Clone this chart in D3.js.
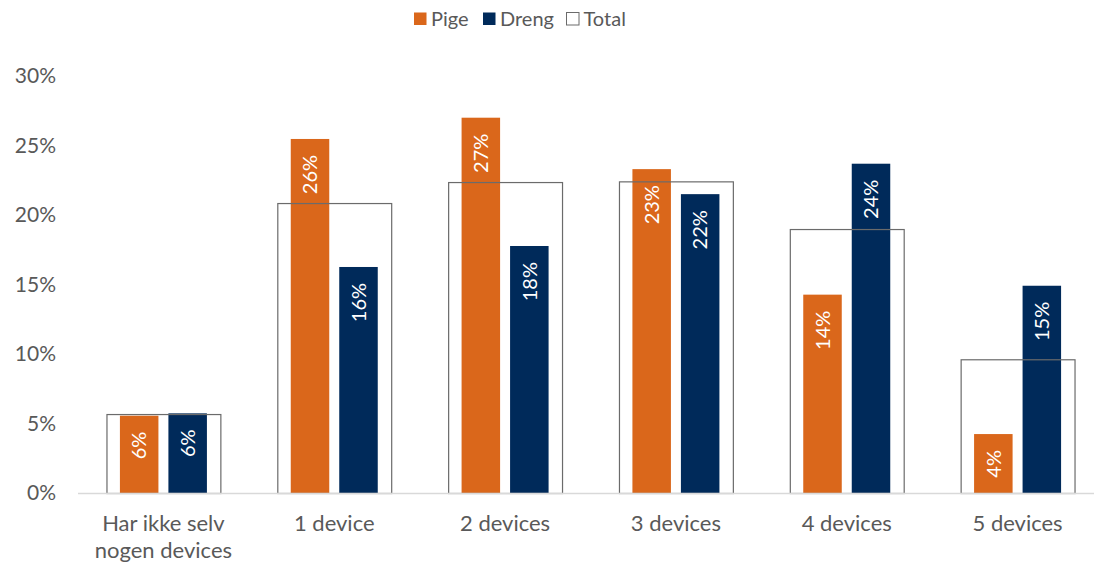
<!DOCTYPE html>
<html><head><meta charset="utf-8">
<script src="https://cdn.jsdelivr.net/npm/d3@7"></script>
<style>body{margin:0;background:#fff;}svg{display:block;font-family:Lato,"Open Sans",sans-serif;}</style>
</head><body>
<svg id="c" width="1094" height="566"></svg>
<script>
const categories = [["Har ikke selv","nogen devices"],["1 device"],["2 devices"],["3 devices"],["4 devices"],["5 devices"]];
const seriesNames = ["Pige","Dreng","Total"];
const pige  = [0.0556, 0.2547, 0.2700, 0.2330, 0.1427, 0.0424];
const dreng = [0.0573, 0.1626, 0.1777, 0.2150, 0.2369, 0.1491];
const total = [0.0568, 0.2086, 0.2237, 0.2242, 0.1899, 0.0962];
const pigeLabels  = ["6%","26%","27%","23%","14%","4%"];
const drengLabels = ["6%","16%","18%","22%","24%","15%"];
const yTicks = [0,0.05,0.10,0.15,0.20,0.25,0.30];

const colors = {Pige:"#DA671B", Dreng:"#002A5A"};
const textCol = "#595959";
const svg = d3.select("#c");
const keys = categories.map((c,i)=>i);
const x = d3.scaleBand().domain(keys).range([78,1103]).padding(0);
const y = d3.scaleLinear().domain([0,0.30]).range([493,76]);
const sub = d3.scaleBand().domain(["Pige","Dreng"]).range([-43.5,43.5]).paddingInner(0.206);
const cx = i => x(i) + x.bandwidth()/2;

// y axis labels
const yAxis = d3.axisLeft(y).tickValues(yTicks).tickFormat(d3.format(".0%")).tickSize(0).tickPadding(0);
const ga = svg.append("g").attr("transform","translate(56,0)").call(yAxis);
ga.select(".domain").remove();
ga.selectAll("text").attr("fill",textCol).style("font-size","21px").style("font-family","Lato");

// bars
const data = [
  {name:"Pige", vals:pige, labels:pigeLabels},
  {name:"Dreng", vals:dreng, labels:drengLabels}
];
data.forEach(s=>{
  const g = svg.append("g");
  g.selectAll("rect").data(s.vals).join("rect")
    .attr("x",(d,i)=>cx(i)+sub(s.name))
    .attr("width",sub.bandwidth())
    .attr("y",d=>y(d))
    .attr("height",d=>y(0)-y(d))
    .attr("fill",colors[s.name]);
});
// total outlines
const tw = x.bandwidth()*2/3;
svg.append("g").selectAll("rect").data(total).join("rect")
  .attr("x",(d,i)=>cx(i)-tw/2+0.5)
  .attr("width",tw)
  .attr("y",d=>y(d)+0.5)
  .attr("height",d=>y(0)-y(d))
  .attr("fill","none").attr("stroke","#6b6b6b").attr("stroke-width",1.2);

// labels
data.forEach(s=>{
  svg.append("g").selectAll("text").data(s.vals).join("text")
    .attr("transform",(d,i)=>`translate(${cx(i)+sub(s.name)+sub.bandwidth()/2},${y(d)+16}) rotate(-90)`)
    .attr("text-anchor","end").attr("dy","0.36em")
    .attr("fill","#fff").style("font-size","20px")
    .text((d,i)=>s.labels[i]);
});

// x axis line
svg.append("line").attr("x1",78).attr("x2",1103).attr("y1",493.5).attr("y2",493.5)
  .attr("stroke","#d9d9d9").attr("stroke-width",1.5);

// category labels
const xa = svg.append("g");
categories.forEach((lines,i)=>{
  const t = xa.append("text").attr("x",cx(i)).attr("y",531).attr("text-anchor","middle")
    .attr("fill",textCol).style("font-size","22px");
  lines.forEach((l,j)=>t.append("tspan").attr("x",cx(i)).attr("dy",j===0?0:27).text(l));
});

// legend
const leg = svg.append("g");
const legItems = [{n:"Pige",x:414},{n:"Dreng",x:483},{n:"Total",x:566.5}];
legItems.forEach(it=>{
  leg.append("rect").attr("x",it.x).attr("y",12.5).attr("width",12.5).attr("height",12.5)
    .attr("fill",colors[it.n]||"#fff").attr("stroke",it.n==="Total"?"#6b6b6b":"none").attr("stroke-width",1);
  leg.append("text").attr("x",it.x+17).attr("y",26).attr("fill",textCol).style("font-size","20px").text(it.n);
});
</script>
</body></html>
